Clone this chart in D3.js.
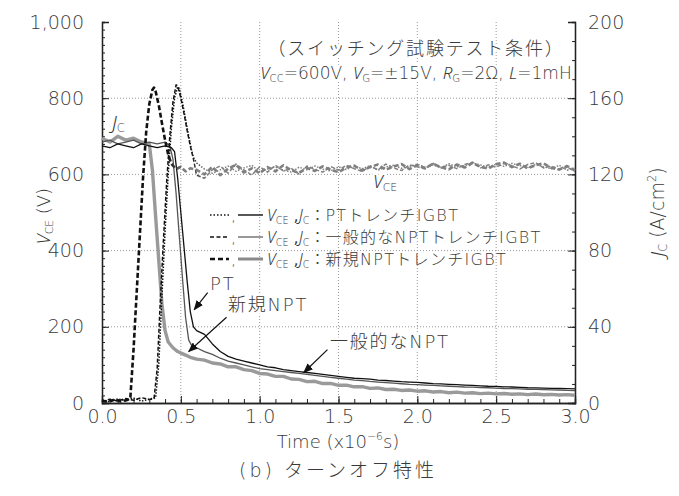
<!DOCTYPE html>
<html>
<head>
<meta charset="utf-8">
<title>ターンオフ特性</title>
<script src="https://d3js.org/d3.v7.min.js"></script>
<style>
  body { margin: 0; background: #fff; }
  text { font-family: "DejaVu Sans", "Noto Sans CJK JP", sans-serif; font-weight: 300; fill: #3a3a3a; }
  tspan.it { font-family: "Noto Sans", "DejaVu Sans", sans-serif; font-style: italic; font-weight: 300; }
  .halo { stroke: #fff; stroke-width: 5px; paint-order: stroke; stroke-linejoin: round; }
</style>
</head>
<body>
<svg width="679" height="496"></svg>
<script>
  // shared time base for the settled part of every waveform (us)
  const tTail = [0.60,0.65,0.70,0.75,0.80,0.85,0.90,0.95,1.00,1.05,1.10,1.15,1.20,1.25,1.30,1.35,1.40,1.45,1.50,1.55,
                 1.60,1.65,1.70,1.75,1.80,1.85,1.90,1.95,2.00,2.05,2.10,2.15,2.20,2.25,2.30,2.35,2.40,2.45,2.50,2.55,
                 2.60,2.65,2.70,2.75,2.80,2.85,2.90,2.95,3.00];

  // V_CE, 新規NPT (bold dashed)
  const tVceNew = [0,0.04,0.08,0.12,0.16,0.18,0.20,0.22,0.24,0.26,0.28,0.30,0.32,0.33,0.34,0.36,0.38,0.40,0.42,0.44,0.47,0.50,0.53,0.56];
  const vVceNew = [6,3,9,4,8,15,140,290,440,590,710,785,822,828,818,782,735,690,652,628,614,620,608,616];
  const vVceNewTail = [612,600,620,598,615,625,605,616,603,619,608,624,611,604,617,609,621,612,606,618,
                       623,610,619,626,612,621,627,614,624,617,628,619,613,626,618,630,620,615,627,631,
                       619,628,616,624,629,617,613,622,610];

  // V_CE, 一般的なNPT (dashed)
  const tVceConv = [0,0.05,0.10,0.15,0.20,0.25,0.30,0.33,0.35,0.37,0.39,0.41,0.43,0.45,0.47,0.48,0.50,0.52,0.54,0.56,0.58];
  const vVceConv = [4,10,5,12,7,14,9,12,90,270,430,580,700,790,835,832,800,760,715,675,640];
  const vVceConvTail = [598,590,612,622,603,627,612,598,620,606,624,609,616,601,622,613,606,621,611,624,
                        615,608,622,612,627,617,610,625,620,614,629,618,624,615,626,632,617,625,619,629,
                        623,614,626,631,617,622,612,619,608];

  // V_CE, PT (dotted)
  const tVcePt = [0,0.05,0.10,0.15,0.20,0.25,0.30,0.34,0.36,0.38,0.40,0.42,0.44,0.46,0.48,0.49,0.51,0.53,0.55,0.57,0.58];
  const vVcePt = [8,3,11,6,13,5,10,14,100,280,450,600,720,800,830,826,790,745,700,660,645];
  const vVcePtTail = [630,614,603,612,622,608,617,624,607,614,620,611,606,619,612,622,614,609,620,613,
                      621,615,623,611,619,624,616,621,627,618,625,617,628,620,623,630,625,618,627,621,
                      629,623,617,626,620,615,624,611,617];

  // J_C, 新規NPT (thick grey)
  const tJcNew = [0,0.05,0.10,0.15,0.20,0.25,0.30,0.32,0.34,0.36,0.38,0.40,0.42,0.45,0.48,0.52,0.56];
  const vJcNew = [139,137,140,138,139,137,136,122,98,75,52,38,32,29,27,25.5,24];
  const vJcNewTail = [23,22.5,21,20.5,19,19,17.5,17,15.5,15.2,14,14,12.6,12.4,11.2,11.4,10.2,10.3,9.3,9.4,
                      8.5,8.6,7.7,7.9,7.1,7.2,6.6,6.8,6.2,6.4,5.8,6.0,5.4,5.7,5.2,5.4,4.9,5.2,4.8,5.0,
                      4.6,4.8,4.4,4.7,4.3,4.5,4.2,4.4,4.1];

  // J_C, PT (black)
  const tJcPt = [0,0.05,0.10,0.15,0.20,0.25,0.30,0.35,0.40,0.44,0.46,0.48,0.50,0.52,0.54,0.56,0.58];
  const vJcPt = [135,134,136,135,134,136,135,134,135,134,132,118,100,82,64,48,40];
  const vJcPtTail = [38,36,31,27,24.5,23,22,21,20,19,18.5,17.5,17,16.5,16,15.5,15,14.5,14,13.5,
                     13,12.8,12.5,12,11.8,11.5,11.2,11,10.8,10.5,10.2,10,9.8,9.6,9.4,9.2,9,8.8,8.7,8.5,
                     8.4,8.2,8,7.9,7.8,7.7,7.6,7.5,7.4];

  // J_C, 一般的なNPT (thin grey)
  const tJcConv = [0,0.05,0.10,0.15,0.20,0.25,0.30,0.35,0.40,0.43,0.45,0.47,0.49,0.51,0.53,0.55,0.57];
  const vJcConv = [137,138,136,137,138,136,137,136,137,135,128,110,88,66,45,33,30];
  const vJcConvTail = [29,27,25.5,23.5,22,21,20,19,18,17.5,17,16.5,16,15.5,15,14.5,14,13.5,13,12.5,
                       12,11.7,11.3,11,10.7,10.4,10.1,9.8,9.6,9.4,9.2,9,8.8,8.6,8.4,8.3,8.1,8,7.8,7.6,
                       7.5,7.4,7.2,7.1,7,6.9,6.8,6.6,6.5];

  const vTicks = [0,200,400,600,800,1000];
  const jTicks = [0,40,80,120,160,200];
  const tTicks = [0,0.5,1.0,1.5,2.0,2.5,3.0];
  const legendNames = ["PTトレンチIGBT", "一般的なNPTトレンチIGBT", "新規NPTトレンチIGBT"];

  const svg = d3.select("svg");
  const x = d3.scaleLinear().domain([0, 3]).range([102, 575]);
  const yV = d3.scaleLinear().domain([0, 1000]).range([403, 22]);
  const yJ = d3.scaleLinear().domain([0, 200]).range([403, 22]);

  const pair = (ts, vs, tail) => ts.map((t, i) => [t, vs[i]]).concat(tTail.map((t, i) => [t, tail[i]]));

  // grid
  const grid = svg.append("g").attr("stroke", "#999").attr("stroke-dasharray", "1,2").attr("stroke-width", 1);
  grid.selectAll(".gx").data([0.5, 1.0, 1.5, 2.0, 2.5]).enter().append("line")
    .attr("x1", d => x(d)).attr("x2", d => x(d)).attr("y1", yV(1000)).attr("y2", yV(0));
  grid.selectAll(".gy").data([200, 400, 600, 800]).enter().append("line")
    .attr("x1", x(0)).attr("x2", x(3)).attr("y1", d => yV(d)).attr("y2", d => yV(d));

  // axes
  function styleAxis(g) {
    g.select(".domain").attr("stroke", "#222").attr("stroke-width", 1.3);
    g.selectAll(".tick line").attr("stroke", "#222");
    g.selectAll("text").attr("font-size", 19);
  }
  svg.append("g").attr("transform", `translate(${x(0)},0)`)
    .call(d3.axisLeft(yV).tickValues(d3.range(0, 1001, 20)).tickSize(-3).tickFormat("")).call(styleAxis);
  svg.append("g").attr("transform", `translate(${x(0)},0)`)
    .call(d3.axisLeft(yV).tickValues(vTicks).tickSize(-7).tickPadding(18).tickFormat(d3.format(","))).call(styleAxis);
  svg.append("g").attr("transform", `translate(${x(3)},0)`)
    .call(d3.axisRight(yJ).tickValues(d3.range(0, 201, 10)).tickSize(-3).tickFormat("")).call(styleAxis);
  svg.append("g").attr("transform", `translate(${x(3)},0)`)
    .call(d3.axisRight(yJ).tickValues(jTicks).tickSize(-7).tickPadding(13)).call(styleAxis);
  svg.append("g").attr("transform", `translate(0,${yV(0)})`)
    .call(d3.axisBottom(x).tickValues(d3.range(0, 31).map(d => d / 10)).tickSize(-4).tickFormat("")).call(styleAxis);
  svg.append("g").attr("transform", `translate(0,${yV(0)})`)
    .call(d3.axisBottom(x).tickValues(tTicks).tickSize(-7).tickPadding(7).tickFormat(d3.format(".1f"))).call(styleAxis);

  // gradients: traces turn grey once they settle
  const defs = svg.append("defs");
  function grad(id, t1, t2) {
    const g = defs.append("linearGradient").attr("id", id).attr("gradientUnits", "userSpaceOnUse")
      .attr("x1", x(t1)).attr("x2", x(t2)).attr("y1", 0).attr("y2", 0);
    g.append("stop").attr("offset", 0).attr("stop-color", "#111");
    g.append("stop").attr("offset", 1).attr("stop-color", "#808080");
  }
  grad("gNew", 0.42, 0.52);
  grad("gConv", 0.56, 0.66);
  grad("gPt", 0.56, 0.66);
  defs.append("marker").attr("id", "arr").attr("viewBox", "0 0 10 8").attr("refX", 9).attr("refY", 4)
    .attr("markerWidth", 10).attr("markerHeight", 8).attr("markerUnits", "userSpaceOnUse").attr("orient", "auto")
    .append("path").attr("d", "M0,0L10,4L0,8Z").attr("fill", "#111");

  const lineV = d3.line().x(d => x(d[0])).y(d => yV(d[1]));
  const lineJ = d3.line().x(d => x(d[0])).y(d => yJ(d[1]));

  const traces = [
    { d: lineJ(pair(tJcNew, vJcNew, vJcNewTail)), stroke: "#9a9a9a", w: 3.4, dash: null },
    { d: lineJ(pair(tJcConv, vJcConv, vJcConvTail)), stroke: "#555", w: 1.3, dash: null },
    { d: lineJ(pair(tJcPt, vJcPt, vJcPtTail)), stroke: "#111", w: 1.3, dash: null },
    { d: lineV(pair(tVcePt, vVcePt, vVcePtTail)), stroke: "url(#gPt)", w: 1.5, dash: "1.5,1.5" },
    { d: lineV(pair(tVceConv, vVceConv, vVceConvTail)), stroke: "url(#gConv)", w: 1.5, dash: "4,2" },
    { d: lineV(pair(tVceNew, vVceNew, vVceNewTail)), stroke: "url(#gNew)", w: 2.6, dash: "5,2.5" }
  ];
  svg.append("g").selectAll("path").data(traces).enter().append("path")
    .attr("d", d => d.d).attr("fill", "none").attr("stroke", d => d.stroke)
    .attr("stroke-width", d => d.w).attr("stroke-dasharray", d => d.dash).attr("stroke-linejoin", "round");

  // helper for text with sub/superscripts
  function rich(t, parts) {
    let shift = 0;
    parts.forEach(([s, st]) => {
      const sp = t.append("tspan").text(s);
      let target = 0;
      if (st && st.includes("i")) sp.attr("class", "it");
      if (st && st.includes("s")) { sp.attr("font-size", "0.6em"); target = 3; }
      if (st && st.includes("S")) { sp.attr("font-size", "0.6em"); target = -8; }
      if (st && st.includes("w")) sp.attr("letter-spacing", 1.3);
      if (st && st.includes("b")) sp.attr("font-weight", 400);
      if (target !== shift) { sp.attr("dy", target - shift); shift = target; }
    });
  }

  // axis titles
  const lt = svg.append("text").attr("transform", "translate(50,216) rotate(-90)").attr("text-anchor", "middle").attr("font-size", 18);
  rich(lt, [["V", "i"], ["CE", "s"], [" (V)", ""]]);
  const rt = svg.append("text").attr("transform", "translate(664,212) rotate(-90)").attr("text-anchor", "middle").attr("font-size", 19);
  rich(rt, [["J", "i"], ["C", "s"], [" (A/cm", ""], ["2", "S"], [")", ""]]);
  const xt = svg.append("text").attr("x", 338).attr("y", 448).attr("text-anchor", "middle").attr("font-size", 18);
  rich(xt, [["Time (x10", ""], ["−6", "S"], ["s)", ""]]);
  svg.append("text").attr("x", 338).attr("y", 477).attr("text-anchor", "middle").attr("font-size", 19)
    .attr("letter-spacing", 3).text("(b) ターンオフ特性");

  // test conditions
  svg.append("text").attr("class", "halo").attr("x", 416).attr("y", 55).attr("text-anchor", "middle").attr("font-size", 18)
    .attr("letter-spacing", 1.8).text("（スイッチング試験テスト条件）");
  const cond = svg.append("text").attr("class", "halo").attr("x", 416).attr("y", 79).attr("text-anchor", "middle").attr("font-size", 17);
  rich(cond, [["V", "i"], ["CC", "s"], ["=600V, ", ""], ["V", "i"], ["G", "s"], ["=±15V, ", ""],
              ["R", "i"], ["G", "s"], ["=2Ω, ", ""], ["L", "i"], ["=1mH", ""]]);

  // trace labels
  rich(svg.append("text").attr("x", 112).attr("y", 129).attr("font-size", 19), [["J", "i"], ["C", "s"]]);
  rich(svg.append("text").attr("class", "halo").attr("x", 373).attr("y", 188).attr("font-size", 18), [["V", "i"], ["CE", "s"]]);

  // legend
  const legStyles = [
    { vd: "1.5,2", vw: 1.4, jc: "#111", jw: 1.4 },
    { vd: "4,2.5", vw: 1.4, jc: "#555", jw: 1.2 },
    { vd: "5,3", vw: 2.6, jc: "#8a8a8a", jw: 3 }
  ];
  const legY = [215, 237, 259];
  legendNames.forEach((name, i) => {
    const g = svg.append("g");
    const s = legStyles[i];
    g.append("line").attr("x1", 210).attr("x2", 229).attr("y1", legY[i]).attr("y2", legY[i])
      .attr("stroke", "#111").attr("stroke-width", s.vw).attr("stroke-dasharray", s.vd);
    g.append("line").attr("x1", 238).attr("x2", 263).attr("y1", legY[i]).attr("y2", legY[i])
      .attr("stroke", s.jc).attr("stroke-width", s.jw);
    g.append("text").attr("x", 231).attr("y", legY[i] + 6).attr("font-size", 16).attr("font-weight", 400).text(",");
    const t = g.append("text").attr("x", 267).attr("y", legY[i] + 6).attr("font-size", 16);
    rich(t, [["V", "i"], ["CE", "s"], [" ,", "b"], ["J", "i"], ["C", "s"], ["：", ""], [name, "w"]]);
  });

  // annotations with arrows
  const notes = [
    { label: "PT", lx: 210, ly: 290, from: [0.67, 58], to: [0.585, 49] },
    { label: "新規NPT", lx: 228, ly: 311, from: [0.79, 45], to: [0.55, 27] },
    { label: "一般的なNPT", lx: 330, ly: 348, from: [1.43, 28], to: [1.28, 16] }
  ];
  notes.forEach(n => {
    svg.append("text").attr("class", "halo").attr("x", n.lx).attr("y", n.ly).attr("font-size", 18)
      .attr("letter-spacing", 1.8).text(n.label);
    svg.append("line").attr("x1", x(n.from[0])).attr("y1", yJ(n.from[1]))
      .attr("x2", x(n.to[0])).attr("y2", yJ(n.to[1]))
      .attr("stroke", "#111").attr("stroke-width", 1.2).attr("marker-end", "url(#arr)");
  });
</script>
</body>
</html>
